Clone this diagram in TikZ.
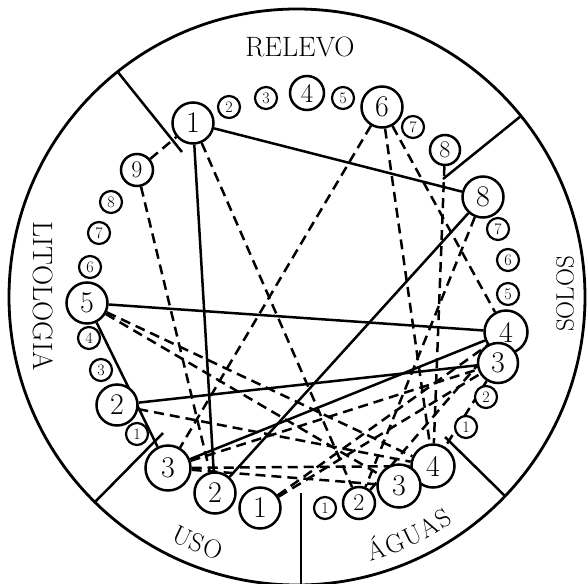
\documentclass[tikz,border=0pt]{standalone}
\usetikzlibrary{backgrounds,calc}
\begin{document}
\begin{tikzpicture}[x=1pt,y=-1pt,
  every node/.style={inner sep=0pt},
  num/.style={circle,draw,line width=2.5pt,fill=white},
  big/.style={num,minimum size=41pt,font=\fontsize{30}{30}\selectfont},
  mid/.style={num,minimum size=32pt,font=\fontsize{24}{24}\selectfont},
  sml/.style={num,minimum size=22pt,line width=2.2pt,font=\fontsize{16}{16}\selectfont},
  lab/.style={font=\fontsize{28}{28}\selectfont},
  arclab/.style={font=\fontsize{26}{26}\selectfont,anchor=base},
  link/.style={line width=2.5pt},
  dlink/.style={line width=2.5pt,dash pattern=on 10pt off 6pt},
  divider/.style={line width=2.5pt}]
\useasboundingbox (0,0) rectangle (587,584);
\coordinate (c) at (297,297);
% outer circle
\draw[line width=2.8pt] (c) circle[radius=288pt];
% dividers
\coordinate (d1a) at (182,152); \coordinate (d1b) at (117,71);
\coordinate (d2a) at (443,179); \coordinate (d2b) at (521,116);
\coordinate (d3a) at (445,437); \coordinate (d3b) at (505,496);
\coordinate (d4a) at (301,493); \coordinate (d4b) at (301,590);
\coordinate (d5a) at (163,433); \coordinate (d5b) at (95,502);
\draw[divider] (d1a) -- (d1b);
\draw[divider] (d2a) -- (d2b);
\draw[divider] (d3a) -- (d3b);
\draw[divider] (d4a) -- (d4b);
\draw[divider] (d5a) -- (d5b);
% sector labels
\node[lab] (relevo) at (300,47) {RELEVO};
\node[lab,rotate=-90] (lito) at (43,296) {LITOLOGIA};
\node[lab,rotate=90,font=\fontsize{25}{25}\selectfont] (solos) at (565,294) {SOLOS};
% USO along arc
\node[arclab,rotate=90-115.6] (usoU) at ($(c)+(115.6:274)$) {U};
\node[arclab,rotate=90-112.1] (usoS) at ($(c)+(112.1:274)$) {S};
\node[arclab,rotate=90-108.4] (usoO) at ($(c)+(108.4:274)$) {O};
% AGUAS along arc
\node[arclab,rotate=90-72.5] (agA1) at ($(c)+(72.5:274)$) {Á};
\node[arclab,rotate=90-68.4] (agG) at ($(c)+(68.4:274)$) {G};
\node[arclab,rotate=90-64.2] (agU) at ($(c)+(64.2:274)$) {U};
\node[arclab,rotate=90-60.1] (agA2) at ($(c)+(60.1:274)$) {A};
\node[arclab,rotate=90-56.6] (agS) at ($(c)+(56.6:274)$) {S};
% RELEVO
\node[big] (r1) at (193,123) {1};
\node[sml] (r2) at (229,107) {2};
\node[sml] (r3) at (266,98) {3};
\node[num,minimum size=34pt,font=\fontsize{27}{27}\selectfont] (r4) at (307,93) {4};
\node[sml] (r5) at (343,98) {5};
\node[big] (r6) at (382,107) {6};
\node[sml] (r7) at (413,127) {7};
\node[mid,minimum size=30pt] (r8) at (445,150) {8};
% SOLOS
\node[big] (s8) at (483,197) {8};
\node[sml] (s7) at (498,229) {7};
\node[sml] (s6) at (508,260) {6};
\node[sml] (s5) at (508,294) {5};
\node[big,minimum size=43pt] (s4) at (506,332) {4};
\node[big,minimum size=40pt] (s3) at (498,363) {3};
\node[sml] (s2) at (486,397) {2};
\node[sml] (s1) at (466,427) {1};
% AGUAS
\node[big,minimum size=43pt] (a4) at (433,466) {4};
\node[big,minimum size=43pt] (a3) at (399,486) {3};
\node[mid] (a2) at (359,503) {2};
\node[sml] (a1) at (325,508) {1};
% USO
\node[big] (u1) at (260,508) {1};
\node[big] (u2) at (215,493) {2};
\node[big,minimum size=45pt] (u3) at (168,468) {3};
% LITOLOGIA
\node[sml] (l1) at (137,434) {1};
\node[big] (l2) at (117,405) {2};
\node[sml] (l3) at (101,370) {3};
\node[sml] (l4) at (89,338) {4};
\node[big] (l5) at (87,303) {5};
\node[sml] (l6) at (90,267) {6};
\node[sml] (l7) at (99,233) {7};
\node[sml] (l8) at (111,202) {8};
\node[mid] (l9) at (137,170) {9};
% connectors
\begin{pgfonlayer}{background}
\draw[link] (r1) -- (s8);
\draw[link] (r1) -- (u2);
\draw[link] (l5) -- (s4);
\draw[link] (l5) -- (u3);
\draw[link] (l2) -- (s3);
\draw[link] (u3) -- (s4);
\draw[link] (u2) -- (s8);
\draw[dlink] (l9) -- (r1);
\draw[dlink] (l9) -- (u2);
\draw[dlink] (r1) -- (a2);
\draw[dlink] (r6) -- (u3);
\draw[dlink] (r6) -- (a4);
\draw[dlink] (r6) -- (s4);
\draw[dlink] (r8) -- (a4);
\draw[dlink] (s8) -- (a2);
\draw[dlink] (l5) -- (a4);
\draw[dlink] (l5) -- (a3);
\draw[dlink] (l2) -- (a4);
\draw[dlink] (u3) -- (a4);
\draw[dlink] (u3) -- (a3);
\draw[dlink] (u3) -- (s3);
\draw[dlink] (s4) -- (a2);
\draw[dlink] (s3) -- (a4);
\draw[dlink] (u1) -- (s4);
\draw[dlink] (u1) -- (s3);
\end{pgfonlayer}
\end{tikzpicture}
\end{document}
